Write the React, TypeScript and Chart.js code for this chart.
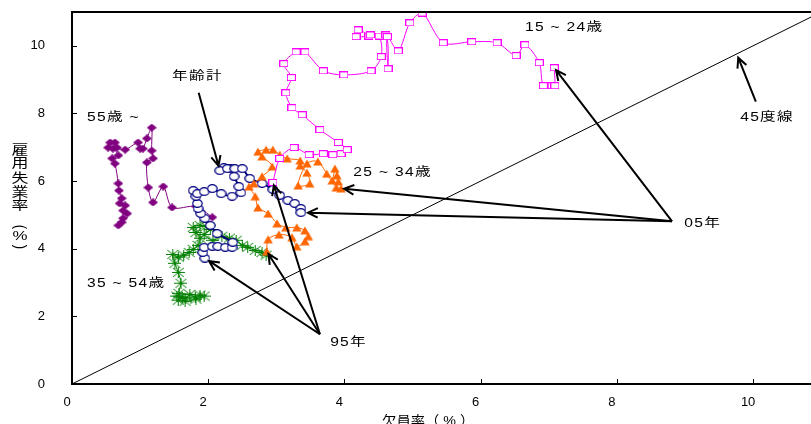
import React, { useEffect, useRef } from "react";
import { Chart, registerables } from "chart.js";

Chart.register(...registerables);

// 欠員率 (x) と 雇用失業率 (y) の推移、95年 → 05年
const X_TICKS = [0, 2, 4, 6, 8, 10];
const Y_TICKS = [0, 2, 4, 6, 8, 10];
const X_MAX = 10.85;
const Y_MAX = 11;

// 15～24歳
const vac15to24 = [2.95, 3.05, 3.26, 3.48, 3.69, 3.83, 3.95, 4.04, 3.91, 3.64, 3.38, 3.23, 3.14, 3.22, 3.11, 3.29, 3.42, 3.69, 3.99, 4.39, 4.54, 4.51, 4.36, 4.17, 4.2, 4.38, 4.61, 4.64, 4.63, 4.79, 4.96, 5.14, 5.45, 5.87, 6.24, 6.52, 6.65, 6.86, 6.92, 7.05, 7.09, 7.08];
const unemp15to24 = [5.96, 6.67, 6.99, 6.78, 6.81, 6.78, 6.81, 6.93, 7.14, 7.52, 7.96, 8.17, 8.61, 9.06, 9.47, 9.82, 9.82, 9.26, 9.14, 9.26, 9.68, 10.29, 10.29, 10.27, 10.47, 10.32, 10.32, 9.32, 10.27, 9.85, 10.68, 10.97, 10.09, 10.12, 10.09, 9.71, 10.03, 9.5, 8.82, 8.82, 8.82, 9.35];

// 25～34歳
const vac25to34 = [2.86, 2.88, 3.04, 3.23, 3.3, 3.42, 3.47, 3.42, 3.3, 3.14, 3.01, 2.88, 2.73, 2.69, 2.6, 2.67, 2.79, 2.94, 2.79, 2.73, 2.85, 2.95, 3.05, 3.16, 3.35, 3.35, 3.45, 3.49, 3.32, 3.45, 3.61, 3.74, 3.82, 3.86, 3.89, 3.91, 3.88, 3.95];
const unemp25to34 = [3.92, 4.28, 4.42, 4.34, 4.07, 4.22, 4.37, 4.54, 4.63, 4.63, 4.75, 5.04, 5.22, 5.55, 5.84, 5.93, 6.14, 6.43, 6.73, 6.87, 6.93, 6.93, 6.78, 6.67, 6.61, 6.46, 6.25, 5.93, 5.87, 6.52, 6.58, 6.22, 6.02, 6.37, 6.17, 5.99, 5.81, 5.78];

// 年齢計
const vacAll = [1.95, 1.92, 1.94, 2.06, 2.14, 2.25, 2.35, 2.36, 2.13, 2.03, 1.95, 1.89, 1.85, 1.84, 1.82, 1.78, 1.84, 1.94, 2.06, 2.19, 2.35, 2.48, 2.45, 2.38, 2.33, 2.23, 2.17, 2.28, 2.39, 2.5, 2.61, 2.79, 2.95, 3.05, 3.17, 3.27, 3.36, 3.36];
const unempAll = [3.72, 3.89, 4.04, 4.07, 4.07, 4.04, 4.04, 4.19, 4.45, 4.69, 4.9, 5.04, 5.19, 5.34, 5.55, 5.72, 5.63, 5.69, 5.78, 5.63, 5.55, 5.66, 5.84, 6.14, 6.37, 6.4, 6.31, 6.37, 6.37, 6.37, 6.08, 5.93, 5.75, 5.58, 5.43, 5.34, 5.19, 5.07];

// 35～54歳
const vac35to54 = [1.56, 1.62, 1.54, 1.67, 1.73, 1.81, 1.88, 1.94, 1.82, 1.66, 1.57, 1.6, 1.56, 1.51, 1.48, 1.56, 1.64, 1.72, 1.78, 1.85, 1.88, 1.82, 1.78, 1.88, 1.97, 2.03, 1.94, 2.07, 2.2, 2.31, 2.41, 2.5, 2.58, 2.69, 2.79, 2.85];
const unemp35to54 = [2.48, 2.57, 2.6, 2.54, 2.65, 2.57, 2.63, 2.6, 2.51, 2.45, 2.68, 2.98, 3.3, 3.57, 3.83, 3.75, 3.81, 3.89, 3.98, 4.1, 4.31, 4.48, 4.63, 4.69, 4.66, 4.57, 4.42, 4.25, 4.37, 4.31, 4.25, 4.1, 4.04, 3.95, 3.89, 3.81];

// 55歳～
const vac55plus = [0.68, 0.73, 0.75, 0.81, 0.75, 0.78, 0.7, 0.73, 0.69, 0.68, 0.63, 0.59, 0.68, 0.6, 0.53, 0.56, 0.63, 0.66, 0.78, 0.97, 1.0, 1.04, 1.1, 1.17, 1.17, 1.19, 1.1, 1.12, 1.19, 1.34, 1.47, 1.82, 2.06];
const unemp55plus = [4.69, 4.78, 4.9, 5.04, 5.13, 5.28, 5.34, 5.49, 5.72, 5.93, 6.52, 6.67, 6.76, 6.96, 6.99, 7.14, 7.14, 6.99, 6.93, 7.14, 6.96, 6.96, 7.26, 7.58, 6.9, 6.67, 6.55, 5.81, 5.37, 5.84, 5.22, 5.25, 4.93];

// 45度線
const diagX = [0, 11];
const diagY = [0, 11];

const FONT = '"Liberation Sans", Arial, "Noto Sans CJK JP", sans-serif';

// 注記ラベル（左端・中心高さをデータ座標で指定）
const NOTES = [
  { text: "15 ~ 24歳", x: 6.65, y: 10.53 },
  { text: "年齢計", x: 1.47, y: 9.09 },
  { text: "55歳 ~", x: 0.22, y: 7.88 },
  { text: "25 ~ 34歳", x: 4.13, y: 6.25 },
  { text: "05年", x: 8.99, y: 4.75 },
  { text: "35 ~ 54歳", x: 0.22, y: 2.98 },
  { text: "95年", x: 3.79, y: 1.21 },
  { text: "45度線", x: 9.81, y: 7.88 },
];

const TAIL_95 = { x: 3.64, y: 1.47 };
const TAIL_05 = { x: 8.81, y: 4.81 };
const TAIL_ALL = { x: 1.86, y: 8.61 };
const TAIL_DIAG = { x: 10.04, y: 8.35 };
const DIAG_TIP = 9.76;
const ALL_TIP_INDEX = 26;

const pts = (xs: number[], ys: number[]) => xs.map((x, i) => ({ x, y: ys[i] }));

function marker(w: number, h: number, draw: (g: CanvasRenderingContext2D) => void) {
  const c = document.createElement("canvas");
  c.width = w;
  c.height = h;
  const g = c.getContext("2d")!;
  draw(g);
  return c;
}

function makeMarkers() {
  const square = marker(9, 7, (g) => {
    g.fillStyle = "#fff";
    g.fillRect(0, 0, 9, 7);
    g.strokeStyle = "#ff00ff";
    g.lineWidth = 1;
    g.strokeRect(0.5, 0.5, 8, 6);
  });
  const circle = marker(11, 9, (g) => {
    g.beginPath();
    g.ellipse(5.5, 4.5, 4.7, 3.8, 0, 0, Math.PI * 2);
    g.fillStyle = "#fff";
    g.fill();
    g.strokeStyle = "#000080";
    g.lineWidth = 1.2;
    g.stroke();
  });
  const triangle = marker(10, 9, (g) => {
    g.beginPath();
    g.moveTo(5, 0.5);
    g.lineTo(9.7, 8.5);
    g.lineTo(0.3, 8.5);
    g.closePath();
    g.fillStyle = "#ff6600";
    g.fill();
  });
  const diamond = marker(10, 8, (g) => {
    g.beginPath();
    g.moveTo(5, 0);
    g.lineTo(10, 4);
    g.lineTo(5, 8);
    g.lineTo(0, 4);
    g.closePath();
    g.fillStyle = "#800080";
    g.fill();
  });
  const star = marker(13, 11, (g) => {
    g.strokeStyle = "#008000";
    g.lineWidth = 1;
    g.beginPath();
    g.moveTo(0, 5.5);
    g.lineTo(13, 5.5);
    g.moveTo(6.5, 0);
    g.lineTo(6.5, 11);
    g.moveTo(1, 1);
    g.lineTo(12, 10);
    g.moveTo(12, 1);
    g.lineTo(1, 10);
    g.stroke();
  });
  return { square, circle, triangle, diamond, star };
}

function stretchText(
  ctx: CanvasRenderingContext2D,
  text: string,
  x: number,
  y: number,
  align: CanvasTextAlign,
  sx = 1.3
) {
  ctx.save();
  ctx.translate(x, y);
  ctx.scale(sx, 1);
  ctx.textAlign = align;
  ctx.textBaseline = "middle";
  ctx.fillText(text, 0, 0);
  ctx.restore();
}

function arrow(ctx: CanvasRenderingContext2D, x1: number, y1: number, x2: number, y2: number, gap: number) {
  const a = Math.atan2(y2 - y1, x2 - x1);
  const ex = x2 - Math.cos(a) * gap;
  const ey = y2 - Math.sin(a) * gap;
  const hl = 11;
  const ha = Math.PI / 7;
  ctx.beginPath();
  ctx.moveTo(x1, y1);
  ctx.lineTo(ex, ey);
  ctx.moveTo(ex - hl * Math.cos(a - ha), ey - hl * Math.sin(a - ha));
  ctx.lineTo(ex, ey);
  ctx.lineTo(ex - hl * Math.cos(a + ha), ey - hl * Math.sin(a + ha));
  ctx.stroke();
}

const overlay = {
  id: "overlay",
  afterDatasetsDraw(chart: any) {
    const { ctx, chartArea: a } = chart;
    const xs = chart.scales.x;
    const ys = chart.scales.y;
    const px = (v: number) => xs.getPixelForValue(v);
    const py = (v: number) => ys.getPixelForValue(v);
    ctx.save();

    // 上枠
    ctx.strokeStyle = "#000";
    ctx.lineWidth = 2;
    ctx.beginPath();
    ctx.moveTo(a.left - 1, a.top);
    ctx.lineTo(a.right, a.top);
    ctx.stroke();

    // 内向きの目盛
    ctx.lineWidth = 1;
    ctx.beginPath();
    X_TICKS.slice(1).forEach((v) => {
      const X = Math.round(px(v)) + 0.5;
      ctx.moveTo(X, a.bottom);
      ctx.lineTo(X, a.bottom - 5);
    });
    Y_TICKS.slice(1).forEach((v) => {
      const Y = Math.round(py(v)) + 0.5;
      ctx.moveTo(a.left, Y);
      ctx.lineTo(a.left + 5, Y);
    });
    ctx.stroke();

    // 矢印
    ctx.lineWidth = 2;
    ctx.lineJoin = "miter";
    const last = (xv: number[], yv: number[]) => ({ x: xv[xv.length - 1], y: yv[yv.length - 1] });
    const first = (xv: number[], yv: number[]) => ({ x: xv[0], y: yv[0] });
    const to = (tail: { x: number; y: number }, tip: { x: number; y: number }, gap: number) =>
      arrow(ctx, px(tail.x), py(tail.y), px(tip.x), py(tip.y), gap);
    to(TAIL_05, last(vac15to24, unemp15to24), 3);
    to(TAIL_05, last(vac25to34, unemp25to34), 3);
    to(TAIL_05, last(vacAll, unempAll), 7);
    to(TAIL_95, first(vac15to24, unemp15to24), 3);
    to(TAIL_95, first(vac25to34, unemp25to34), 3);
    to(TAIL_95, first(vacAll, unempAll), 5);
    to(TAIL_ALL, { x: vacAll[ALL_TIP_INDEX], y: unempAll[ALL_TIP_INDEX] }, 5);
    to(TAIL_DIAG, { x: DIAG_TIP, y: DIAG_TIP }, 4);

    // 注記
    ctx.fillStyle = "#000";
    ctx.font = `12px ${FONT}`;
    (ctx as any).letterSpacing = "1px";
    NOTES.forEach((n) => stretchText(ctx, n.text, px(n.x), py(n.y), "left"));

    // 軸タイトル
    ctx.font = `13px ${FONT}`;
    (ctx as any).letterSpacing = "0px";
    stretchText(ctx, "欠員率（ % ）", a.left + (a.right - a.left) * 0.482, a.bottom + 37, "center", 1.1);

    const mid = (a.top + a.bottom) / 2;
    const yChars = [
      { t: "雇", dy: -48 },
      { t: "用", dy: -35 },
      { t: "失", dy: -20 },
      { t: "業", dy: -6 },
      { t: "率", dy: 7 },
      { t: "(", dy: 29, rot: true },
      { t: "%", dy: 38 },
      { t: ")", dy: 49, rot: true },
    ];
    const tx = 20;
    yChars.forEach((c) => {
      if (c.rot) {
        ctx.save();
        ctx.translate(tx, mid + c.dy);
        ctx.rotate(Math.PI / 2);
        ctx.scale(1, 1.3);
        ctx.textAlign = "center";
        ctx.textBaseline = "middle";
        ctx.fillText(c.t, 0, 0);
        ctx.restore();
      } else {
        stretchText(ctx, c.t, tx, mid + c.dy, "center");
      }
    });
    ctx.restore();
  },
};

export default function App() {
  const ref = useRef<HTMLCanvasElement>(null);

  useEffect(() => {
    const m = makeMarkers();
    const series = (
      data: { x: number; y: number }[],
      color: string,
      style: HTMLCanvasElement,
      width: number,
      order: number
    ) => ({
      data,
      showLine: true,
      borderColor: color,
      borderWidth: width,
      backgroundColor: color,
      pointStyle: style,
      pointRadius: 4,
      tension: 0.3,
      order,
    });

    const chart = new Chart(ref.current!, {
      type: "scatter",
      data: {
        datasets: [
          series(pts(vac15to24, unemp15to24), "#ff00ff", m.square, 1, 1),
          series(pts(vac25to34, unemp25to34), "#ff6600", m.triangle, 1, 2),
          series(pts(vacAll, unempAll), "#000080", m.circle, 2, 3),
          series(pts(vac35to54, unemp35to54), "#008000", m.star, 1, 4),
          series(pts(vac55plus, unemp55plus), "#800080", m.diamond, 1, 5),
          {
            data: pts(diagX, diagY),
            showLine: true,
            borderColor: "#000",
            borderWidth: 1,
            pointRadius: 0,
            order: 6,
          },
        ],
      },
      options: {
        responsive: false,
        animation: false,
        events: [],
        layout: { autoPadding: false, padding: { top: 12, right: 0, left: 0, bottom: 0 } },
        plugins: { legend: { display: false }, tooltip: { enabled: false } },
        scales: {
          x: {
            type: "linear",
            min: 0,
            max: X_MAX,
            afterBuildTicks: (s: any) => {
              s.ticks = X_TICKS.map((value) => ({ value }));
            },
            afterFit: (s: any) => {
              s.height = 40;
              s.paddingLeft = 0;
              s.paddingRight = 0;
            },
            // 目盛線は描かず、ラベル位置の確保にだけ tickLength を使う
            grid: { display: false, drawTicks: true, tickLength: 9 },
            border: { display: true, color: "#000", width: 2 },
            ticks: { padding: 2, labelOffset: -5, color: "#000", font: { family: FONT, size: 13 } },
          },
          y: {
            type: "linear",
            min: 0,
            max: Y_MAX,
            afterBuildTicks: (s: any) => {
              s.ticks = Y_TICKS.map((value) => ({ value }));
            },
            afterFit: (s: any) => {
              s.width = 72;
              s.paddingTop = 0;
              s.paddingBottom = 0;
            },
            grid: { display: false, drawTicks: true, tickLength: 25 },
            border: { display: true, color: "#000", width: 2 },
            ticks: { padding: 2, color: "#000", font: { family: FONT, size: 13 } },
          },
        },
      },
      plugins: [overlay],
    });
    return () => chart.destroy();
  }, []);

  return (
    <div style={{ position: "absolute", left: 0, top: 0, width: 811, height: 424, background: "#fff" }}>
      <canvas ref={ref} width={811} height={424} style={{ display: "block" }} />
    </div>
  );
}
